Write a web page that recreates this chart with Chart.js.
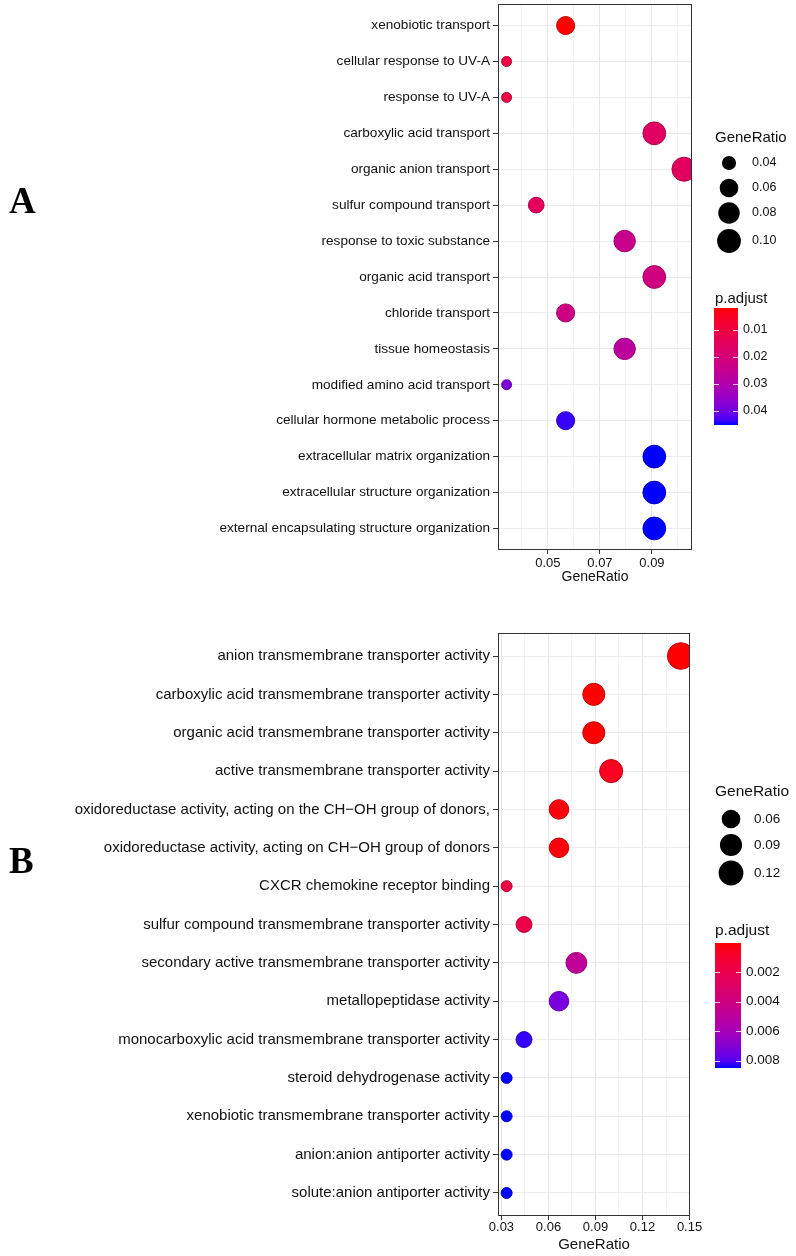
<html>
<head>
<meta http-equiv="Content-Type" content="text/html; charset=UTF-8">
<title>GO enrichment dot plots</title>
<script src="https://cdn.jsdelivr.net/npm/chart.js@4.4.1/dist/chart.umd.min.js"></script>
<style>
  body { margin: 0; background: #fff; }
  .panel { position: absolute; left: 0; width: 796px; }
  .tag { position: absolute; left: 9px; font: bold 37px "Liberation Serif", "DejaVu Serif", serif; line-height: 1; color: #000; }
</style>
</head>
<body>
<div class="panel" style="top:0;height:600px"><canvas id="chartA"></canvas></div>
<div class="panel" style="top:600px;height:656px"><canvas id="chartB"></canvas></div>
<div class="tag" style="top:182px">A</div>
<div class="tag" style="top:842px">B</div>

<script>
// ---- panel A : biological process ----
var termsA = [
  "xenobiotic transport",
  "cellular response to UV-A",
  "response to UV-A",
  "carboxylic acid transport",
  "organic anion transport",
  "sulfur compound transport",
  "response to toxic substance",
  "organic acid transport",
  "chloride transport",
  "tissue homeostasis",
  "modified amino acid transport",
  "cellular hormone metabolic process",
  "extracellular matrix organization",
  "extracellular structure organization",
  "external encapsulating structure organization"
];
var ratioA = [0.0568, 0.0341, 0.0341, 0.0909, 0.1023, 0.0455, 0.0795, 0.0909, 0.0568, 0.0795, 0.0341, 0.0568, 0.0909, 0.0909, 0.0909];
var padjA  = [0.0019, 0.0105, 0.0105, 0.0160, 0.0155, 0.0150, 0.0240, 0.0215, 0.0225, 0.0275, 0.0385, 0.0440, 0.0452, 0.0452, 0.0452];
var xMajorA = [0.05, 0.07, 0.09];
var sizeKeysA = [0.04, 0.06, 0.08, 0.10];
var colourKeysA = [0.01, 0.02, 0.03, 0.04];

// ---- panel B : molecular function ----
var termsB = [
  "anion transmembrane transporter activity",
  "carboxylic acid transmembrane transporter activity",
  "organic acid transmembrane transporter activity",
  "active transmembrane transporter activity",
  "oxidoreductase activity, acting on the CH\u2212OH group of donors,",
  "oxidoreductase activity, acting on CH\u2212OH group of donors",
  "CXCR chemokine receptor binding",
  "sulfur compound transmembrane transporter activity",
  "secondary active transmembrane transporter activity",
  "metallopeptidase activity",
  "monocarboxylic acid transmembrane transporter activity",
  "steroid dehydrogenase activity",
  "xenobiotic transmembrane transporter activity",
  "anion:anion antiporter activity",
  "solute:anion antiporter activity"
];
var ratioB = [0.1444, 0.0889, 0.0889, 0.1000, 0.0667, 0.0667, 0.0333, 0.0444, 0.0778, 0.0667, 0.0444, 0.0333, 0.0333, 0.0333, 0.0333];
var padjB  = [0.00003, 0.00005, 0.00005, 0.0006, 0.0002, 0.0002, 0.0017, 0.0019, 0.0048, 0.0073, 0.0083, 0.0085, 0.0085, 0.0085, 0.0085];
var xMajorB = [0.03, 0.06, 0.09, 0.12, 0.15];
var sizeKeysB = [0.06, 0.09, 0.12];
var colourKeysB = [0.002, 0.004, 0.006, 0.008];

// colour ramp red -> blue interpolated in CIE Lab (like ggplot's gradient)
function toLin(c) { c /= 255; return c <= 0.04045 ? c / 12.92 : Math.pow((c + 0.055) / 1.055, 2.4); }
function toSrgb(c) { c = c <= 0.0031308 ? 12.92 * c : 1.055 * Math.pow(c, 1 / 2.4) - 0.055; return Math.round(Math.max(0, Math.min(1, c)) * 255); }
function rgb2lab(r, g, b) {
  r = toLin(r); g = toLin(g); b = toLin(b);
  var X = (0.4124 * r + 0.3576 * g + 0.1805 * b) / 0.95047;
  var Y = (0.2126 * r + 0.7152 * g + 0.0722 * b);
  var Z = (0.0193 * r + 0.1192 * g + 0.9505 * b) / 1.08883;
  var f = function (t) { return t > 0.008856 ? Math.cbrt(t) : 7.787 * t + 16 / 116; };
  return [116 * f(Y) - 16, 500 * (f(X) - f(Y)), 200 * (f(Y) - f(Z))];
}
function lab2rgb(L, a, bb) {
  var fy = (L + 16) / 116, fx = fy + a / 500, fz = fy - bb / 200;
  var g = function (t) { return t > 0.206893 ? t * t * t : (t - 16 / 116) / 7.787; };
  var X = 0.95047 * g(fx), Y = g(fy), Z = 1.08883 * g(fz);
  return [toSrgb(3.2406 * X - 1.5372 * Y - 0.4986 * Z),
          toSrgb(-0.9689 * X + 1.8758 * Y + 0.0415 * Z),
          toSrgb(0.0557 * X - 0.2040 * Y + 1.0570 * Z)];
}
var labRed = rgb2lab(255, 0, 0), labBlue = rgb2lab(0, 0, 255);
function ramp(t, dark) {
  var c = lab2rgb(labRed[0] + (labBlue[0] - labRed[0]) * t,
                  labRed[1] + (labBlue[1] - labRed[1]) * t,
                  labRed[2] + (labBlue[2] - labRed[2]) * t);
  var k = dark ? 0.78 : 1;
  return "rgb(" + Math.round(c[0] * k) + "," + Math.round(c[1] * k) + "," + Math.round(c[2] * k) + ")";
}
function range(arr) { return [Math.min.apply(null, arr), Math.max.apply(null, arr)]; }

// size scale: radius grows with sqrt of the rescaled ratio
function sizer(ratios, rMin, rMax) {
  var lim = range(ratios);
  return function (v) {
    var t = Math.max(0, (v - lim[0]) / (lim[1] - lim[0]));
    return rMin + (rMax - rMin) * Math.sqrt(t);
  };
}

var dotLegend = {
  id: 'dotLegend',
  afterDatasetsDraw: function (chart) {
    var ctx = chart.ctx, a = chart.chartArea;
    ctx.save();
    ctx.strokeStyle = "#333";
    ctx.lineWidth = 1;
    ctx.strokeRect(Math.round(a.left) + 0.5, Math.round(a.top) + 0.5, Math.round(a.right - a.left) - 1, Math.round(a.bottom - a.top) - 1);
    ctx.restore();
  },
  afterDraw: function (chart, args, o) {
    var ctx = chart.ctx;
    ctx.save();
    ctx.fillStyle = "#111";
    ctx.textBaseline = "middle";
    ctx.textAlign = "left";
    ctx.font = o.titleSize + "px 'Liberation Sans', Arial, sans-serif";
    ctx.fillText("GeneRatio", o.x, o.sizeTitleY);
    ctx.font = o.labelSize + "px 'Liberation Sans', Arial, sans-serif";
    o.sizeKeys.forEach(function (v, i) {
      ctx.beginPath();
      ctx.arc(o.dotX, o.dotY[i], o.size(v), 0, Math.PI * 2);
      ctx.fillStyle = "#000";
      ctx.fill();
      ctx.fillStyle = "#111";
      ctx.fillText(v.toFixed(2), o.dotLabelX, o.dotY[i]);
    });
    ctx.font = o.titleSize + "px 'Liberation Sans', Arial, sans-serif";
    ctx.fillText("p.adjust", o.x, o.colourTitleY);
    var g = ctx.createLinearGradient(0, o.barTop, 0, o.barBottom);
    for (var s = 0; s <= 20; s++) g.addColorStop(s / 20, ramp(s / 20));
    ctx.fillStyle = g;
    ctx.fillRect(o.barX, o.barTop, o.barW, o.barBottom - o.barTop);
    ctx.font = o.labelSize + "px 'Liberation Sans', Arial, sans-serif";
    o.colourKeys.forEach(function (v) {
      var y = o.barTop + (v - o.pLim[0]) / (o.pLim[1] - o.pLim[0]) * (o.barBottom - o.barTop);
      ctx.strokeStyle = "rgba(255,255,255,0.8)";
      ctx.lineWidth = 1;
      ctx.beginPath();
      ctx.moveTo(o.barX, Math.round(y) + 0.5); ctx.lineTo(o.barX + 5, Math.round(y) + 0.5);
      ctx.moveTo(o.barX + o.barW - 5, Math.round(y) + 0.5); ctx.lineTo(o.barX + o.barW, Math.round(y) + 0.5);
      ctx.stroke();
      ctx.fillStyle = "#111";
      ctx.fillText(String(v), o.barX + o.barW + 5, y);
    });
    ctx.restore();
  }
};

function makeDotChart(id, terms, ratios, padj, xMin, xMax, step, majors, cfg) {
  var size = sizer(ratios, cfg.rMin, cfg.rMax);
  var pLim = range(padj);
  var isMajor = function (v) {
    return majors.some(function (m) { return Math.abs(m - v) < step / 10; });
  };
  var pts = ratios.map(function (r, i) { return { x: r, y: i, r: size(r) }; });
  var tcol = function (i) { return (padj[i] - pLim[0]) / (pLim[1] - pLim[0]); };
  return new Chart(document.getElementById(id), {
    type: 'bubble',
    data: {
      datasets: [{
        data: pts,
        backgroundColor: function (c) { return ramp(tcol(c.dataIndex)); },
        borderColor: function (c) { return ramp(tcol(c.dataIndex), true); },
        borderWidth: 1,
        hoverRadius: 0,
        clip: 0
      }]
    },
    plugins: [dotLegend],
    options: {
      responsive: true,
      maintainAspectRatio: false,
      animation: false,
      events: [],
      layout: { padding: cfg.padding, autoPadding: false },
      plugins: {
        legend: { display: false },
        tooltip: { enabled: false },
        dotLegend: Object.assign({ size: size, pLim: pLim }, cfg.legend)
      },
      scales: {
        x: {
          type: 'linear',
          min: xMin, max: xMax,
          border: { display: false },
          grid: {
            color: function (c) { return isMajor(c.tick.value) ? "#e6e6e6" : "#f3f3f3"; },
            tickColor: function (c) { return isMajor(c.tick.value) ? "#333" : "rgba(0,0,0,0)"; },
            tickLength: 4,
            lineWidth: 1
          },
          ticks: {
            stepSize: step,
            includeBounds: false,
            autoSkip: false,
            maxRotation: 0,
            padding: cfg.xTickPad,
            color: "#111",
            font: { family: "'Liberation Sans', Arial, sans-serif", size: cfg.xTickSize },
            callback: function (v) { return isMajor(v) ? majors.filter(function (m) { return Math.abs(m - v) < step / 10; })[0].toFixed(2) : ""; }
          },
          title: {
            display: true,
            text: "GeneRatio",
            color: "#111",
            padding: 0,
            font: { family: "'Liberation Sans', Arial, sans-serif", size: cfg.xTitleSize }
          },
          afterFit: function (s) { s.height = cfg.xAxisH; s.paddingLeft = 0; s.paddingRight = 0; }
        },
        y: {
          type: 'linear',
          reverse: true,
          min: -0.6, max: terms.length - 0.4,
          border: { display: false },
          grid: { color: "#ececec", tickColor: "#333", tickLength: 5, lineWidth: 1 },
          ticks: {
            stepSize: 1,
            includeBounds: false,
            autoSkip: false,
            padding: 3,
            color: "#111",
            font: { family: "'Liberation Sans', Arial, sans-serif", size: cfg.yTickSize },
            callback: function (v) { return terms[v]; }
          },
          afterFit: function (s) { s.width = 498; s.paddingTop = 0; s.paddingBottom = 0; }
        }
      }
    }
  });
}

makeDotChart("chartA", termsA, ratioA, padjA, 0.0308, 0.1054, 0.01, xMajorA, {
  rMin: 5, rMax: 12,
  padding: { top: 4, right: 104, bottom: 14, left: 0 },
  xTickPad: 2, xTickSize: 13, xTitleSize: 14, xAxisH: 36, yTickSize: 13.6,
  legend: {
    x: 715, titleSize: 15, labelSize: 12.5,
    sizeTitleY: 138, sizeKeys: sizeKeysA, dotX: 729, dotY: [163, 188, 213, 241], dotLabelX: 752,
    colourTitleY: 299, colourKeys: colourKeysA, barX: 714, barW: 24, barTop: 308, barBottom: 425
  }
});

makeDotChart("chartB", termsB, ratioB, padjB, 0.0278, 0.1503, 0.015, xMajorB, {
  rMin: 5.5, rMax: 13.3,
  padding: { top: 33, right: 106, bottom: 2, left: 0 },
  xTickPad: 0, xTickSize: 13, xTitleSize: 15, xAxisH: 38, yTickSize: 15,
  legend: {
    x: 715, titleSize: 15.5, labelSize: 13.5,
    sizeTitleY: 192, sizeKeys: sizeKeysB, dotX: 731, dotY: [219, 245, 273], dotLabelX: 754,
    colourTitleY: 331, colourKeys: colourKeysB, barX: 715, barW: 26, barTop: 343, barBottom: 468
  }
});
</script>
</body>
</html>
